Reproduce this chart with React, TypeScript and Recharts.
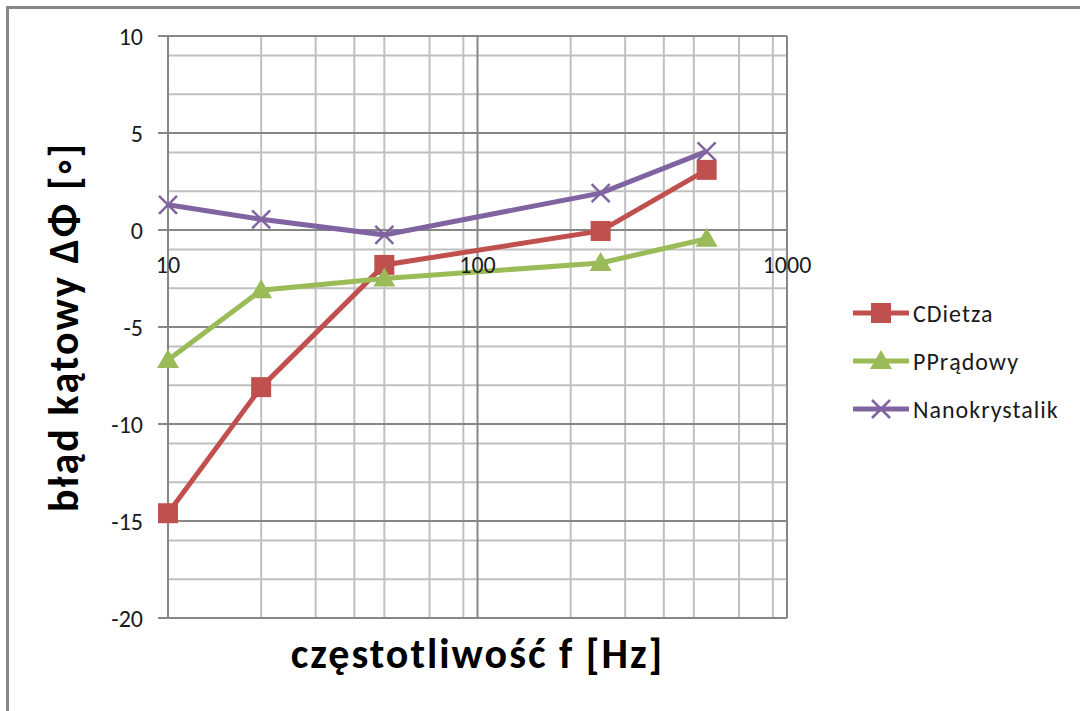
import React from 'react';
import {
  LineChart,
  Line,
  XAxis,
  YAxis,
  CartesianGrid,
  Legend,
  ReferenceDot,
} from 'recharts';

// frequencies [Hz] and angle error [deg]
const frequencies = [10, 20, 50, 250, 550];
const cDietza = [-14.6, -8.1, -1.8, -0.05, 3.1];
const pPradowy = [-6.7, -3.1, -2.5, -1.7, -0.45];
const nanokrystalik = [1.3, 0.55, -0.25, 1.9, 4.05];

const xLabels = [10, 100, 1000];
const majorX = [10, 100, 1000];
const minorX = [20, 30, 40, 50, 60, 70, 80, 90, 200, 300, 400, 500, 600, 700, 800, 900];
const majorY = [-20, -15, -10, -5, 0, 5, 10];
const minorY = [
  -19, -18, -17, -16, -14, -13, -12, -11, -9, -8, -7, -6, -4, -3, -2, -1,
  1, 2, 3, 4, 6, 7, 8, 9,
];

const FONT = 'Carlito, Calibri, Lato, sans-serif';

const series = [
  { key: 'cDietza', name: 'CDietza', color: '#C0504D', marker: 'square' },
  { key: 'pPradowy', name: 'PPrądowy', color: '#9BBB59', marker: 'triangle' },
  { key: 'nano', name: 'Nanokrystalik', color: '#8064A2', marker: 'cross' },
];

const data = frequencies.map((f, i) => ({
  f,
  cDietza: cDietza[i],
  pPradowy: pPradowy[i],
  nano: nanokrystalik[i],
}));

const Marker = ({ type, cx, cy, color }: { type: string; cx: number; cy: number; color: string }) => {
  if (cx == null || cy == null) return null;
  if (type === 'square') {
    return <rect x={cx - 10} y={cy - 10} width={20} height={20} fill={color} />;
  }
  if (type === 'triangle') {
    return (
      <polygon
        points={`${cx},${cy - 11} ${cx + 11},${cy + 8} ${cx - 11},${cy + 8}`}
        fill={color}
      />
    );
  }
  return (
    <g stroke={color} strokeWidth={2.5}>
      <line x1={cx - 9} y1={cy - 9} x2={cx + 9} y2={cy + 9} />
      <line x1={cx - 9} y1={cy + 9} x2={cx + 9} y2={cy - 9} />
    </g>
  );
};

const renderLegend = () => (
  <div style={{ fontFamily: FONT }}>
    {series.map((s) => (
      <div key={s.key} style={{ display: 'flex', alignItems: 'center', height: 48 }}>
        <svg width={56} height={24}>
          <line x1={1} x2={55} y1={12} y2={12} stroke={s.color} strokeWidth={5} strokeLinecap="round" />
          <Marker type={s.marker} cx={28} cy={12} color={s.color} />
        </svg>
        <span style={{ marginLeft: 4, fontSize: 24, letterSpacing: 1, color: '#1a1a1a' }}>{s.name}</span>
      </div>
    ))}
  </div>
);

const titleStyle = {
  fontSize: 42,
  fontWeight: 'bold',
  letterSpacing: 2,
  fill: '#000',
  fontFamily: FONT,
};

const tickStyle = { fontSize: 24, fill: '#1a1a1a', fontFamily: FONT };

export default function App() {
  return (
    <div
      style={{
        position: 'absolute',
        left: 0,
        top: 0,
        width: 1080,
        height: 711,
        overflow: 'hidden',
        background: '#fff',
        fontFamily: FONT,
      }}
    >
      <div
        style={{
          position: 'absolute',
          left: 6,
          top: 6,
          width: 1200,
          height: 800,
          borderTop: '3px solid #878787',
          borderLeft: '3px solid #878787',
        }}
      />
      <LineChart
        width={1080}
        height={711}
        data={data}
        margin={{ top: 36, right: 293, bottom: 23, left: 50 }}
        style={{ position: 'absolute', left: 0, top: 0 }}
      >
        <CartesianGrid
          stroke="#c0c0c0"
          strokeWidth={2}
          horizontalValues={minorY}
          verticalValues={minorX}
        />
        <CartesianGrid
          stroke="#868686"
          strokeWidth={2}
          horizontalValues={majorY}
          verticalValues={majorX}
        />
        <XAxis
          dataKey="f"
          type="number"
          scale="log"
          domain={[10, 1000]}
          ticks={majorX}
          tick={() => <g />}
          tickLine={false}
          axisLine={false}
          height={70}
          label={{
            value: 'częstotliwość f [Hz]',
            position: 'insideBottom',
            offset: 20,
            style: titleStyle,
          }}
        />
        <YAxis
          type="number"
          domain={[-20, 10]}
          ticks={majorY}
          width={118}
          tickSize={10}
          tickMargin={15}
          tickLine={{ stroke: '#868686', strokeWidth: 2 }}
          axisLine={{ stroke: '#868686', strokeWidth: 2 }}
          tick={tickStyle}
          label={{
            value: 'błąd kątowy ΔΦ [◦]',
            angle: -90,
            position: 'insideLeft',
            offset: 19,
            dx: -6,
            style: { ...titleStyle, textAnchor: 'middle' },
          }}
        />
        {xLabels.map((v) => (
          <ReferenceDot
            key={v}
            x={v}
            y={0}
            r={0}
            fill="none"
            stroke="none"
            ifOverflow="visible"
            label={{
              value: String(v),
              position: 'bottom',
              offset: 26,
              style: tickStyle,
            }}
          />
        ))}
        {series.map((s) => (
          <Line
            key={s.key}
            dataKey={s.key}
            name={s.name}
            stroke={s.color}
            strokeWidth={5}
            isAnimationActive={false}
            dot={(p: any) => (
              <Marker key={`${s.key}-${p.index}`} type={s.marker} cx={p.cx} cy={p.cy} color={s.color} />
            )}
            activeDot={false}
          />
        ))}
        <Legend
          content={renderLegend}
          layout="vertical"
          align="center"
          verticalAlign="middle"
          wrapperStyle={{ position: 'absolute', left: 853, top: 289, width: 220 }}
        />
      </LineChart>
    </div>
  );
}
